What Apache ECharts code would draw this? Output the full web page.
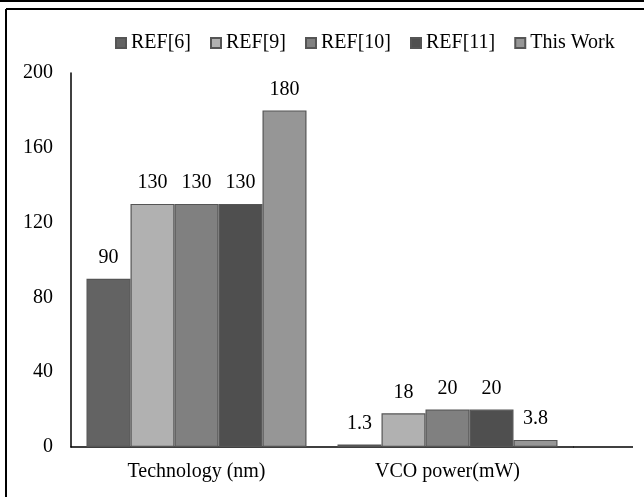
<!DOCTYPE html>
<html>
<head>
<meta charset="utf-8">
<script src="https://cdn.jsdelivr.net/npm/echarts@6/dist/echarts.min.js"></script>
<style>html,body{margin:0;padding:0;background:#fff;}#main{width:644px;height:497px;}</style>
</head>
<body>
<div id="main"></div>
<script>
var categories = ['Technology (nm)', 'VCO power(mW)'];
var seriesNames = ['REF[6]', 'REF[9]', 'REF[10]', 'REF[11]', 'This Work'];
var ref6 = [90, 1.3];
var ref9 = [130, 18];
var ref10 = [130, 20];
var ref11 = [130, 20];
var thisWork = [180, 3.8];
var yTicks = [0, 40, 80, 120, 160, 200];

var colors = ['#636363', '#b1b1b1', '#808080', '#4f4f4f', '#969696'];
var values = [ref6, ref9, ref10, ref11, thisWork];
var font = 'Liberation Serif, Times New Roman, serif';
var fs = 20;

var chart = echarts.init(document.getElementById('main'));
var series = seriesNames.map(function (name, i) {
  return {
    name: name,
    type: 'bar',
    data: values[i],
    barWidth: 44,
    barGap: '0%',
    itemStyle: { color: colors[i], borderColor: '#555555', borderWidth: 1.2 },
    label: {
      show: true, position: 'top', distance: 11,
      color: '#000', fontFamily: font, fontSize: fs
    }
  };
});

chart.setOption({
  animation: false,
  backgroundColor: '#fff',
  textStyle: { fontFamily: font },
  legend: {
    data: seriesNames,
    left: 110, top: 28,
    itemWidth: 10, itemHeight: 10, itemGap: 19,
    icon: 'rect',
    textStyle: { color: '#000', fontFamily: font, fontSize: fs }
  },
  grid: { left: 71, right: 71, top: 73, bottom: 50, containLabel: false },
  xAxis: {
    type: 'category',
    data: categories,
    axisLine: { show: true, lineStyle: { color: '#000', width: 1.5 } },
    axisTick: { show: false },
    axisLabel: { color: '#000', fontFamily: font, fontSize: fs, margin: 15 }
  },
  yAxis: {
    type: 'value',
    min: yTicks[0], max: yTicks[yTicks.length - 1], interval: 40,
    axisLine: { show: true, lineStyle: { color: '#000', width: 1.5 } },
    axisTick: { show: false },
    splitLine: { show: false },
    axisLabel: { color: '#000', fontFamily: font, fontSize: fs, margin: 18 }
  },
  graphic: [
    { type: 'line', shape: { x1: 0, y1: 1, x2: 644, y2: 1 }, style: { stroke: '#000', lineWidth: 2 } },
    { type: 'line', shape: { x1: 6, y1: 9, x2: 644, y2: 9 }, style: { stroke: '#000', lineWidth: 2 } },
    { type: 'line', shape: { x1: 6, y1: 9, x2: 6, y2: 497 }, style: { stroke: '#000', lineWidth: 2 } },
    { type: 'line', shape: { x1: 573, y1: 447, x2: 633, y2: 447 }, style: { stroke: '#000', lineWidth: 1.5 } }
  ],
  series: series
});
</script>
</body>
</html>
